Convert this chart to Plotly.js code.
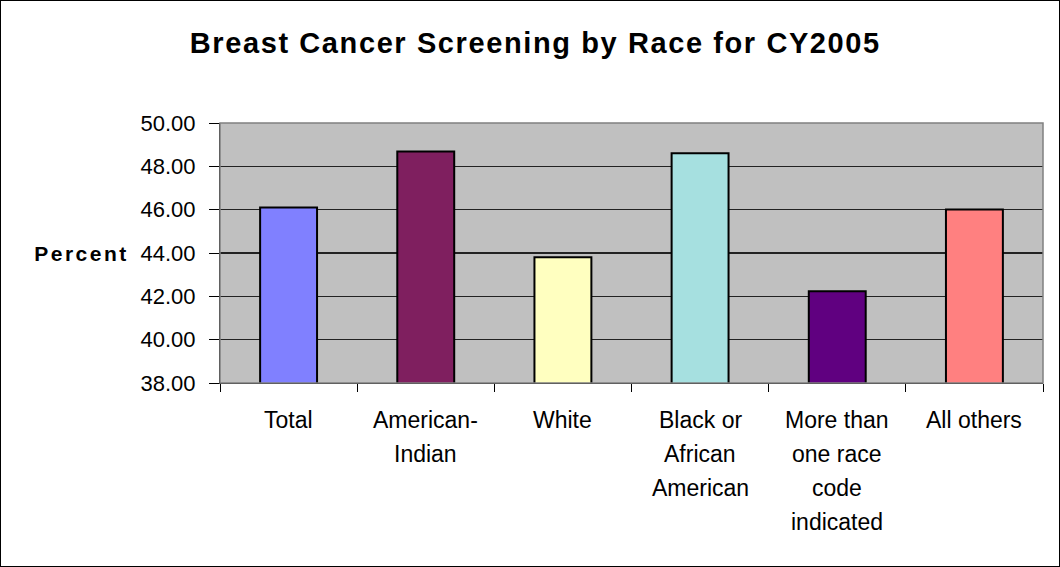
<!DOCTYPE html>
<html>
<head>
<meta charset="utf-8">
<script src="https://cdn.plot.ly/plotly-3.0.1.min.js"></script>
<style>
  html, body { margin: 0; padding: 0; background: #fff; }
  #wrap { position: relative; width: 1060px; height: 567px; }
  #chart { width: 1060px; height: 567px; }
  #frame { position: absolute; left: 0; top: 0; width: 1060px; height: 567px; box-sizing: border-box; border: 1px solid #000; pointer-events: none; }
  #chart .gtitle { letter-spacing: 1.6px; }
  #chart .annotation[data-index="0"] text { letter-spacing: 2.5px; }
</style>
</head>
<body>
<div id="wrap"><div id="chart"></div><div id="frame"></div></div>
<script>
const categories = ["Total", "American-Indian", "White", "Black or African American", "More than one race code indicated", "All others"];
const labelLines = [
  ["Total"],
  ["American-", "Indian"],
  ["White"],
  ["Black or", "African", "American"],
  ["More than", "one race", "code", "indicated"],
  ["All others"]
];
const values = [46.10, 48.69, 43.80, 48.60, 42.23, 46.01];
const colors = ["#8080FF", "#7F1F5F", "#FFFFC0", "#A6E0E0", "#600080", "#FF8080"];
const yTicks = [38, 40, 42, 44, 46, 48, 50];

const FONT = "Liberation Sans, Arial, Helvetica, sans-serif";

const trace = {
  type: "bar",
  x: categories,
  y: values,
  marker: { color: colors, line: { color: "#000", width: 2 } },
  hoverinfo: "x+y"
};

const annotations = [];
annotations.push({
  xref: "paper", yref: "paper", x: 0, y: 0.5, xanchor: "right", yanchor: "middle",
  xshift: -98, text: "<b>Percent</b>", showarrow: false,
  font: { family: FONT, size: 21, color: "#000" }
});
labelLines.forEach((lines, ci) => {
  lines.forEach((ln, li) => {
    annotations.push({
      xref: "x", yref: "paper", x: categories[ci], y: 0,
      text: ln, showarrow: false, xanchor: "center", yanchor: "middle",
      yshift: -37 - 34 * li,
      font: { family: FONT, size: 23, color: "#000" }
    });
  });
});

const layout = {
  width: 1060, height: 567,
  margin: { l: 220, r: 17, t: 123, b: 184, pad: 0 },
  paper_bgcolor: "#fff",
  plot_bgcolor: "#C0C0C0",
  bargap: 0.585,
  showlegend: false,
  title: {
    text: "<b>Breast Cancer Screening by Race for CY2005</b>",
    xref: "container", x: 0.505, xanchor: "center",
    yref: "container", y: 1 - 43 / 567, yanchor: "middle",
    font: { family: FONT, size: 29, color: "#000" }
  },
  xaxis: {
    type: "category",
    showticklabels: false,
    tickson: "boundaries",
    ticks: "outside", ticklen: 8, tickwidth: 1, tickcolor: "#000",
    showline: true, linecolor: "#000", linewidth: 1,
    showgrid: false, zeroline: false, fixedrange: true
  },
  yaxis: {
    range: [38, 50],
    tickvals: yTicks,
    ticktext: yTicks.map(v => v.toFixed(2)),
    ticks: "outside", ticklen: 10, tickwidth: 1, tickcolor: "#000",
    ticklabelstandoff: 9,
    showline: true, linecolor: "#000", linewidth: 1,
    showgrid: true, gridcolor: "#222", gridwidth: 1.2,
    zeroline: false, fixedrange: true,
    tickfont: { family: FONT, size: 22, color: "#000" }
  },
  shapes: [
    { type: "rect", xref: "paper", yref: "paper", x0: 0, x1: 1, y0: 0, y1: 1,
      line: { color: "#808080", width: 1.5 }, fillcolor: "rgba(0,0,0,0)", layer: "above" }
  ],
  annotations: annotations
};

Plotly.newPlot("chart", [trace], layout, { displayModeBar: false, staticPlot: true });
</script>
</body>
</html>
